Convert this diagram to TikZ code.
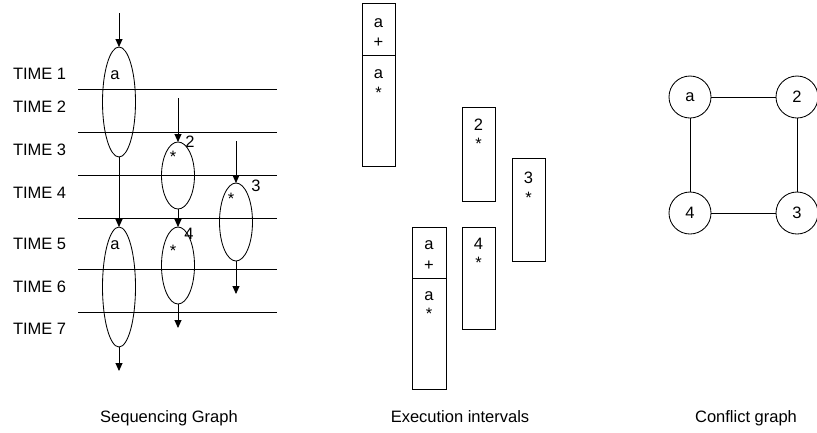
\documentclass[tikz,border=0pt]{standalone}
\usepackage{fontspec}
\setmainfont{Liberation Sans}
\usetikzlibrary{shapes.geometric,arrows.meta}
\begin{document}
\begin{tikzpicture}[x=1pt,y=-1pt,
  every node/.style={font=\fontsize{16.5}{19.5}\selectfont, inner sep=0pt, outer sep=0pt},
  thin line/.style={line width=0.85pt},
  op/.style={draw, ellipse, line width=0.85pt, minimum width=33pt},
  flow/.style={line width=0.85pt, -{Triangle[length=8pt,width=7pt]}},
  txt/.style={anchor=base},
  timelbl/.style={anchor=base west},
  slot/.style={draw, line width=0.85pt, anchor=north west, minimum width=33pt},
  res/.style={draw, circle, line width=0.85pt, minimum size=42pt},
  link/.style={line width=0.85pt}]
\useasboundingbox (0,0) rectangle (817,432);

% ---------- sequencing graph ----------
\node[timelbl] (t1) at (13,79)  {TIME 1};
\node[timelbl] (t2) at (13,112) {TIME 2};
\node[timelbl] (t3) at (13,155) {TIME 3};
\node[timelbl] (t4) at (13,198) {TIME 4};
\node[timelbl] (t5) at (13,249) {TIME 5};
\node[timelbl] (t6) at (13,292) {TIME 6};
\node[timelbl] (t7) at (13,334) {TIME 7};

\foreach \yy in {89,132,175,218,269,312}
  \draw[thin line] (78,\yy) -- (277,\yy);

\node[op, minimum height=110pt] (a1) at (119,102) {};
\node[op, minimum height=120pt] (a2) at (119,287) {};
\node[op, minimum height=67pt]  (e2) at (178,175.5) {};
\node[op, minimum height=77pt]  (e4) at (178,265.5) {};
\node[op, minimum height=78pt]  (e3) at (236,222) {};

\node[txt] (la1) at (115,79)  {a};
\node[txt] (la2) at (115,249) {a};
\node[txt] (n2)  at (190,147) {2};
\node[txt] (s2)  at (173,162) {*};
\node[txt] (n4)  at (189,239) {4};
\node[txt] (s4)  at (173,256) {*};
\node[txt] (n3)  at (256,191) {3};
\node[txt] (s3)  at (231,204) {*};

\coordinate (ina) at (119,13);
\coordinate (in2) at (178,98);
\coordinate (in3) at (236,141);
\coordinate (outa) at (119,371);
\coordinate (out4) at (178,328);
\coordinate (out3) at (236,294);

\draw[flow] (ina) -- (a1.north);
\draw[flow] (a1.south) -- (a2.north);
\draw[flow] (a2.south) -- (outa);
\draw[flow] (in2) -- (e2.north);
\draw[flow] (e2.south) -- (e4.north);
\draw[flow] (e4.south) -- (out4);
\draw[flow] (in3) -- (e3.north);
\draw[flow] (e3.south) -- (out3);

\node[txt] (cap1) at (169,422) {Sequencing Graph};

% ---------- execution intervals ----------
\node[slot, minimum height=52pt]  (ia1p) at (362,3)   {};
\node[slot, minimum height=111pt] (ia1m) at (362,55)  {};
\node[slot, minimum height=94pt]  (i2)   at (462,107) {};
\node[slot, minimum height=103pt] (i3)   at (512,158) {};
\node[slot, minimum height=51pt, minimum width=34pt]  (ia2p) at (412,227) {};
\node[slot, minimum height=111pt, minimum width=34pt] (ia2m) at (412,278) {};
\node[slot, minimum height=102pt] (i4)   at (462,227) {};

\node[txt] at (378.5,27) {a};
\node[txt] at (378.5,47) {+};
\node[txt] at (378.5,78) {a};
\node[txt] at (378.5,98) {*};

\node[txt] at (478.5,130) {2};
\node[txt] at (478.5,149) {*};

\node[txt] at (528.5,183) {3};
\node[txt] at (528.5,203) {*};

\node[txt] at (429,249) {a};
\node[txt] at (429,270) {+};
\node[txt] at (429,300) {a};
\node[txt] at (429,319) {*};

\node[txt] at (478.5,249) {4};
\node[txt] at (478.5,268) {*};

\node[txt] (cap2) at (460,422) {Execution intervals};

% ---------- conflict graph ----------
\node[res] (ca) at (690,97)  {a};
\node[res] (c2) at (797,97)  {2};
\node[res] (c4) at (690,213) {4};
\node[res] (c3) at (797,213) {3};

\draw[link] (ca) -- (c2);
\draw[link] (c2) -- (c3);
\draw[link] (c3) -- (c4);
\draw[link] (c4) -- (ca);

\node[txt] (cap3) at (746,422) {Conflict graph};
\end{tikzpicture}
\end{document}
